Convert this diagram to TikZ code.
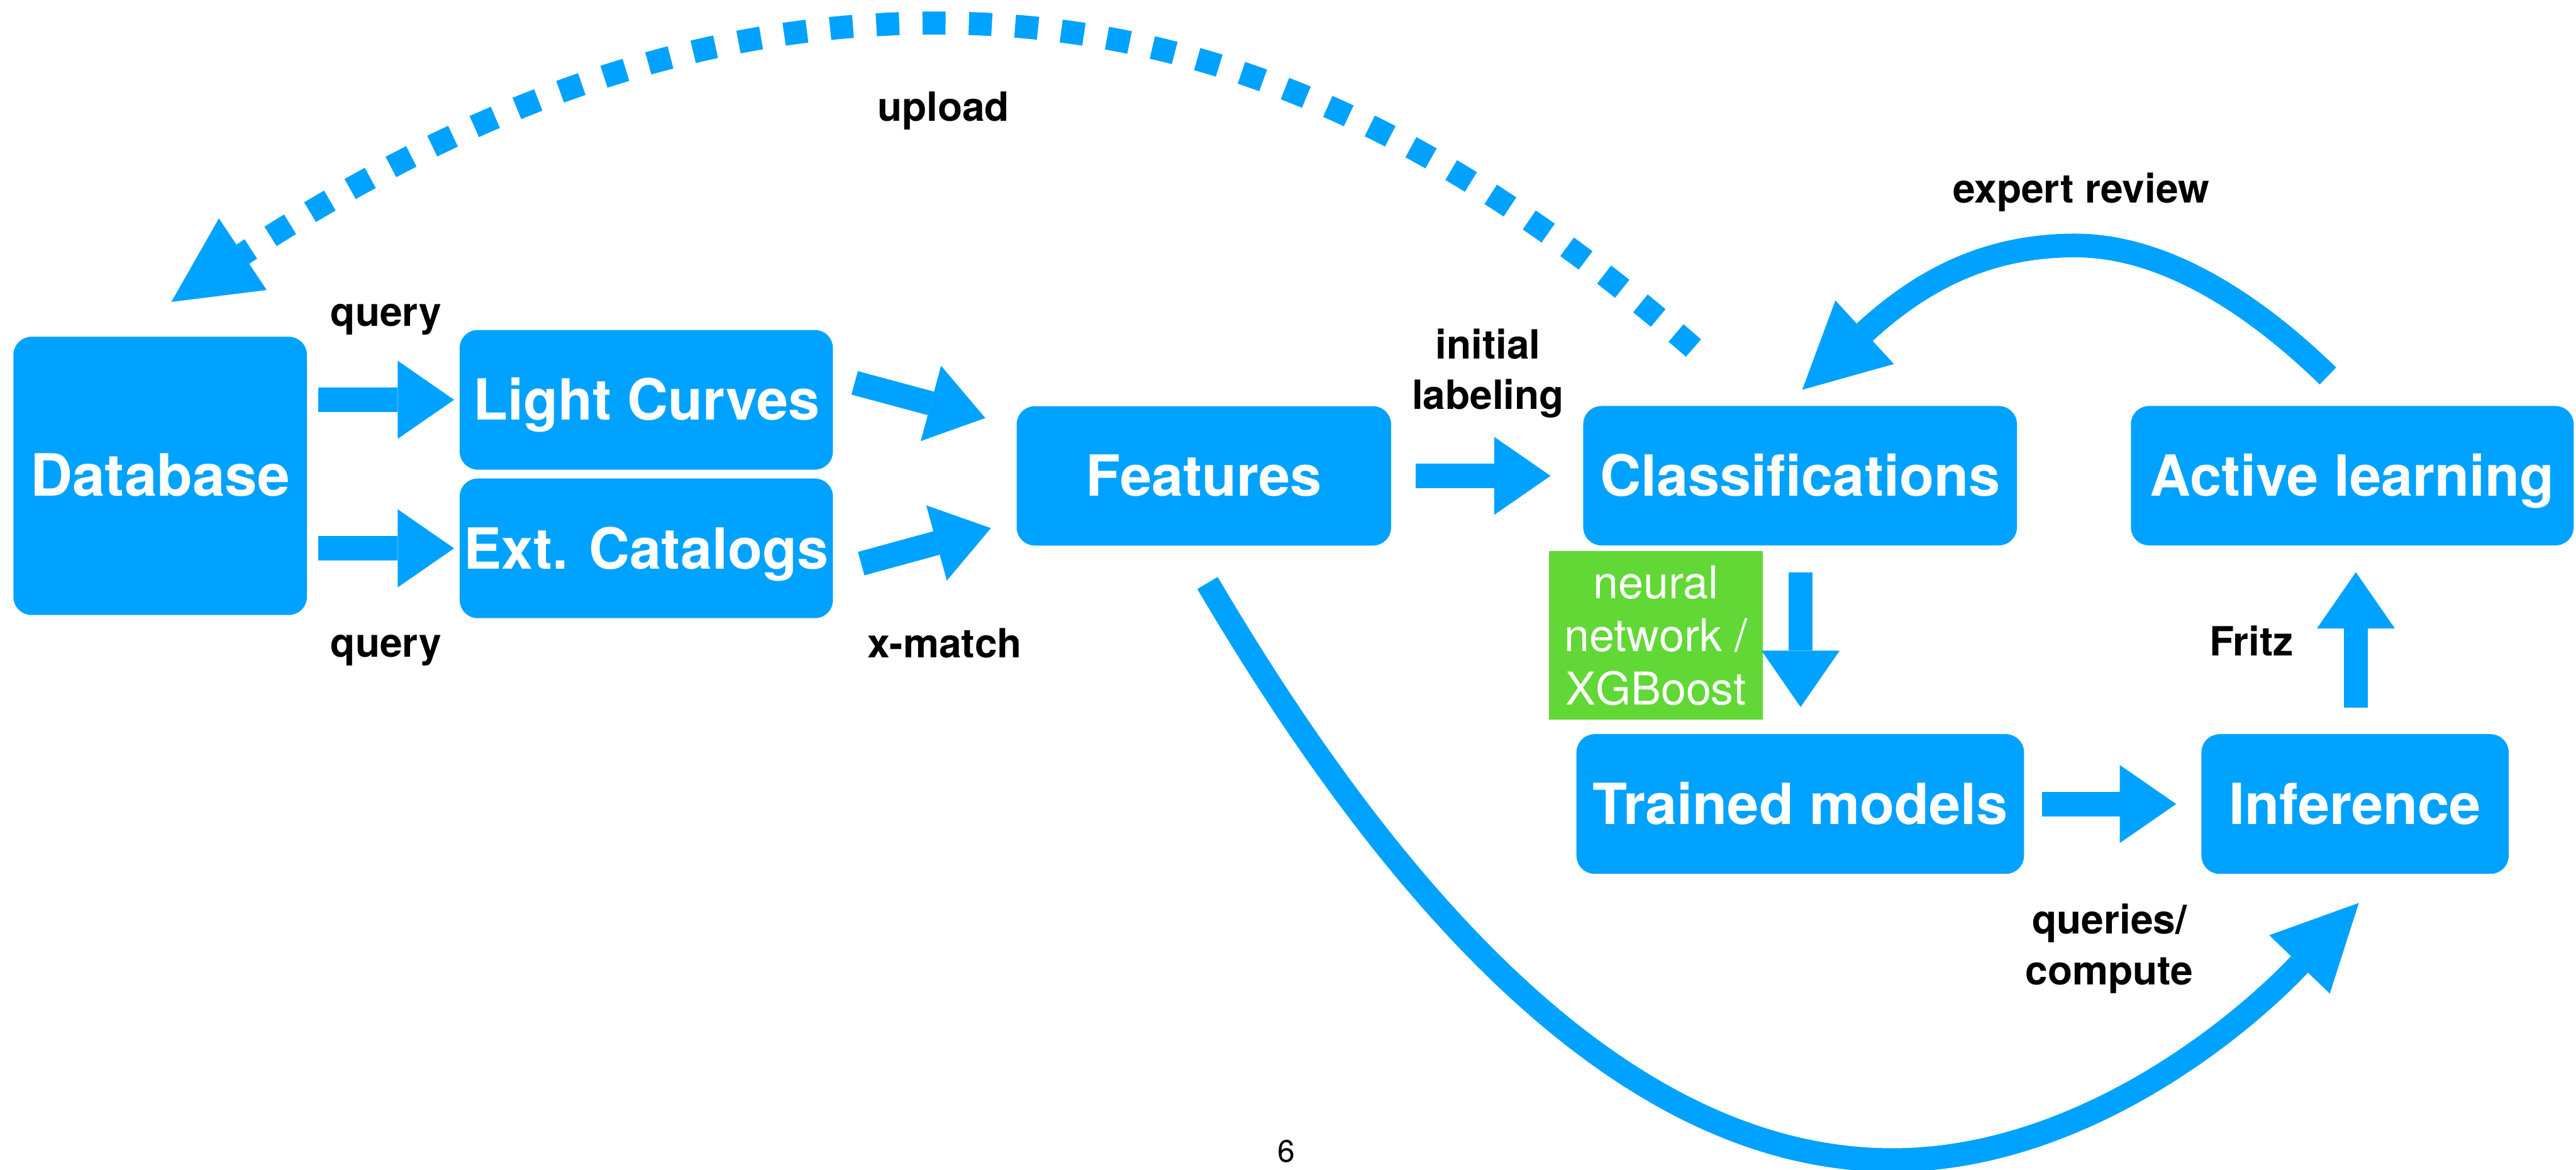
\documentclass[tikz,border=0pt]{standalone}
\usepackage{fontspec}
\setmainfont{TeX Gyre Heros}
\usetikzlibrary{arrows.meta,calc}
\definecolor{flowblue}{RGB}{0,162,255}
\definecolor{modelgreen}{RGB}{97,216,54}

\begin{document}
\begin{tikzpicture}[x=1pt,y=-1pt,
  box/.style={fill=flowblue, rounded corners=11pt, text=white,
    font=\fontsize{34.5}{40}\selectfont\bfseries, inner sep=0pt,
    text height=24.8pt, text depth=0pt},
  greenbox/.style={fill=modelgreen, text=white, inner sep=0pt, align=center,
    font=\fontsize{27.5}{32.4}\selectfont},
  lbl/.style={font=\fontsize{24.5}{30.9}\selectfont\bfseries, anchor=base,
    align=center, inner sep=0pt},
  blockarrow/.style={color=flowblue, line width=14.8pt,
    -{Triangle[length=34.3pt,width=47.5pt,line width=0pt]}},
  curveshaft/.style={draw=flowblue, line width=14.4pt},
  dashshaft/.style={draw=flowblue, line width=14pt, dash pattern=on 14pt off 14.2pt},
  headfill/.style={fill=flowblue}
]
\useasboundingbox (0,0) rectangle (1568,711.7);

% boxes
\node[box, minimum width=178.7pt, minimum height=169.3pt] (db)  at (97.5,289.6)  {\fontsize{35.5}{40}\selectfont Database};
\node[box, minimum width=227.2pt, minimum height=85pt]    (lc)  at (393.4,243.3) {Light Curves};
\node[box, minimum width=227.2pt, minimum height=85pt]    (ec)  at (393.4,333.7) {Ext. Catalogs};
\node[box, minimum width=227.9pt, minimum height=84.8pt]  (ft)  at (732.8,289.6) {Features};
\node[box, minimum width=264pt,   minimum height=84.8pt]  (cl)  at (1095.7,289.5) {Classifications};
\node[box, minimum width=269.5pt, minimum height=84.8pt]  (al)  at (1431.8,289.5) {Active learning};
\node[box, minimum width=272.4pt, minimum height=85pt]    (tm)  at (1095.8,489.3) {Trained models};
\node[box, minimum width=187pt,   minimum height=85pt]    (inf) at (1433.5,489.3) {Inference};
\node[greenbox, minimum width=130.3pt, minimum height=102.6pt] (nn) at (1007.9,386.7) {neural\\network /\\XGBoost};

% straight block arrows
\draw[blockarrow] ($(db.east |- lc.west)+(6.5,0)$) -- ($(lc.west)+(-3.2,0)$);
\draw[blockarrow] ($(db.east |- ec.west)+(6.5,0)$) -- ($(ec.west)+(-3.2,0)$);
\draw[blockarrow] ($(lc.east)+(13,-10.3)$) -- ($(ft.west)+(-18.9,-35.2)$);
\draw[blockarrow] ($(ec.east)+(17,9.3)$) -- ($(ft.west)+(-15.5,31.8)$);
\draw[blockarrow] ($(ft.east)+(14.8,0)$) -- ($(cl.west |- ft.east)+(-19.7,0)$);
\draw[blockarrow] ($(cl.south)+(0.3,16.1)$) -- ($(tm.north)+(0.2,-16.3)$);
\draw[blockarrow] ($(tm.east)+(10.6,0)$) -- ($(inf.west)+(-15.2,0)$);
\draw[blockarrow] ($(inf.north)+(0.5,-16)$) -- ($(inf.north |- al.south)+(0.5,16.1)$);

% expert review: Active learning back to Classifications
\coordinate (erStart) at ($(al.north)+(-14.8,-18.1)$);
\coordinate (erTip)   at ($(cl.north)+(1.3,-9.7)$);
\coordinate (erBase)  at (1135,202.2);
\draw[curveshaft] (erStart) .. controls (1375,188) and (1320,149.4) .. (1263,149.4)
  .. controls (1210,149.4) and (1170,170) .. (erBase);
\fill[headfill] (erTip) -- ($(erBase)!26.3pt!90:(erTip)$) -- ($(erBase)!26.3pt!-90:(erTip)$) -- cycle;

% upload: Classifications back to Database (dashed)
\coordinate (upStart) at ($(cl.north west)+(67.3,-35.1)$);
\coordinate (upTip)   at ($(db.north)+(6.8,-21)$);
\coordinate (upBase)  at (147.8,154.7);
\draw[dashshaft] (upStart) .. controls (895.1,93.9) and (750,14) .. (570,14)
  .. controls (400,14) and (256.7,83.6) .. (upBase);
\fill[headfill] (upTip) -- ($(upBase)!26.2pt!90:(upTip)$) -- ($(upBase)!26.2pt!-90:(upTip)$) -- cycle;

% queries/compute: Features down and round to Inference
\coordinate (qcStart) at ($(ft.south)+(2.2,22.6)$);
\coordinate (qcTip)   at ($(inf.south)+(2.3,17.5)$);
\coordinate (qcBase)  at (1399.7,586.9);
\draw[curveshaft] (qcStart) .. controls (850,550) and (990,706) .. (1152,706)
  .. controls (1262,706) and (1358.6,630.2) .. (qcBase);
\fill[headfill] (qcTip) -- ($(qcBase)!25.6pt!90:(qcTip)$) -- ($(qcBase)!25.6pt!-90:(qcTip)$) -- cycle;

% labels (multi-line ones are anchored on their last baseline)
\node[lbl] (lq1) at (235,198.4) {query};
\node[lbl] (lq2) at (235,399.8) {query};
\node[lbl] (lxm) at (575,400.3) {x-match};
\node[lbl] (lup) at (574.2,73.7) {upload};
\node[lbl] (lil) at (905.7,249.2) {initial\\labeling};
\node[lbl] (ler) at (1266.8,123.5) {expert review};
\node[lbl] (lfr) at (1370.5,398.9) {Fritz};
\node[lbl] (lqc) at (1284,599.3) {queries/\\compute};

% page number
\node[font=\fontsize{19}{19}\selectfont, anchor=base, inner sep=0pt] (pg) at (783,707.4) {6};
\end{tikzpicture}
\end{document}
